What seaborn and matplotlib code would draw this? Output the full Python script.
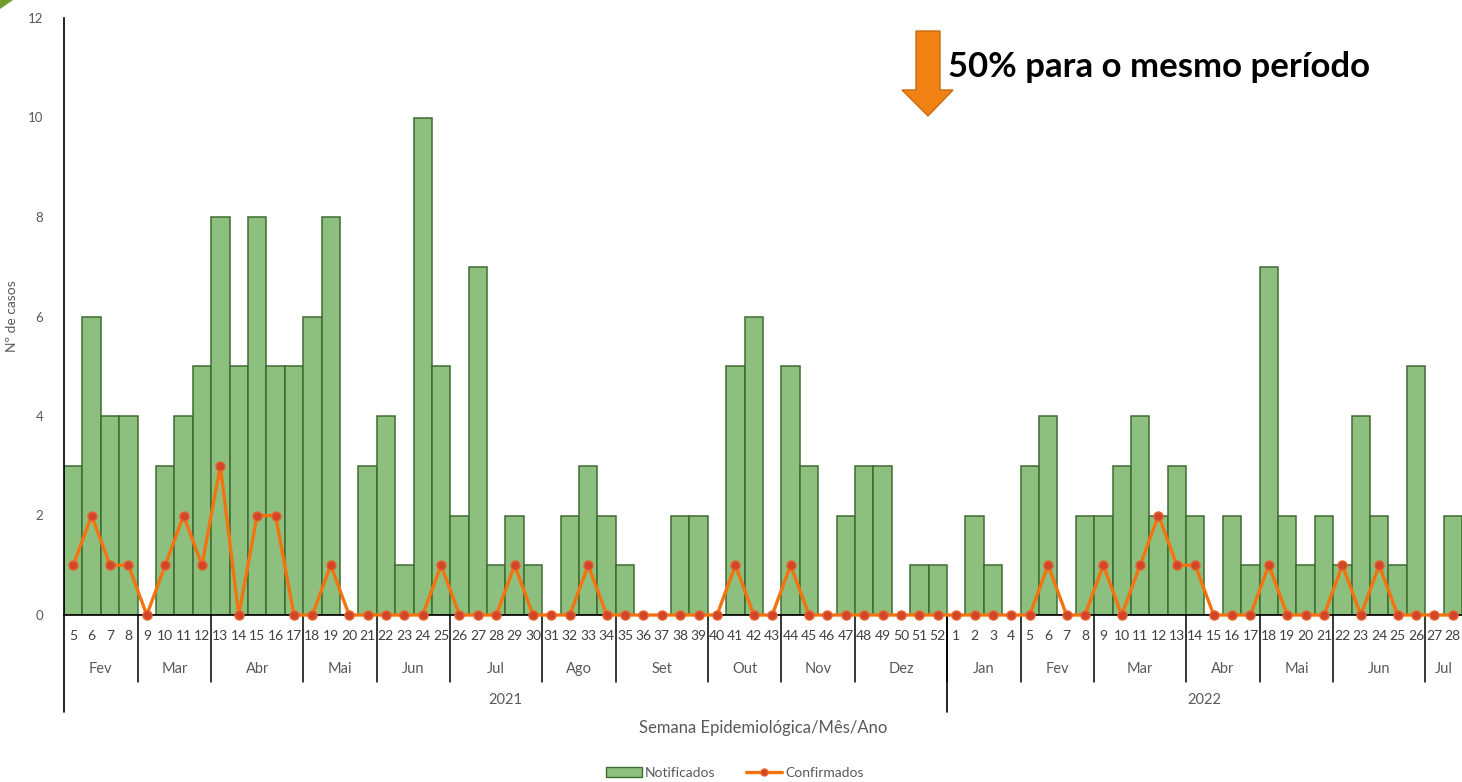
import numpy as np
import pandas as pd
import matplotlib
matplotlib.use("Agg")
import matplotlib.pyplot as plt
import seaborn as sns
from matplotlib.patches import Polygon, Patch
from matplotlib.lines import Line2D

# weekly data, 2021 week 5 .. 2022 week 28
weeks_2021 = list(range(5, 53))
weeks_2022 = list(range(1, 29))

notif_2021 = [3, 6, 4, 4, 0, 3, 4, 5, 8, 5,
              8, 5, 5, 6, 8, 0, 3, 4, 1, 10,
              5, 2, 7, 1, 2, 1, 0, 2, 3, 2,
              1, 0, 0, 2, 2, 0, 5, 6, 0, 5,
              3, 0, 2, 3, 3, 0, 1, 1]
conf_2021 = [1, 2, 1, 1, 0, 1, 2, 1, 3, 0,
             2, 2, 0, 0, 1, 0, 0, 0, 0, 0,
             1, 0, 0, 0, 1, 0, 0, 0, 1, 0,
             0, 0, 0, 0, 0, 0, 1, 0, 0, 1,
             0, 0, 0, 0, 0, 0, 0, 0]
notif_2022 = [0, 2, 1, 0, 3, 4, 0, 2, 2, 3,
              4, 2, 3, 2, 0, 2, 1, 7, 2, 1,
              2, 1, 4, 2, 1, 5, 0, 2]
conf_2022 = [0, 0, 0, 0, 0, 1, 0, 0, 1, 0,
             1, 2, 1, 1, 0, 0, 0, 1, 0, 0,
             0, 1, 0, 1, 0, 0, 0, 0]

months_2021 = ["Fev", "Mar", "Abr", "Mai", "Jun", "Jul", "Ago", "Set", "Out", "Nov", "Dez"]
month_len_2021 = [4, 4, 5, 4, 4, 5, 4, 5, 4, 4, 5]
months_2022 = ["Jan", "Fev", "Mar", "Abr", "Mai", "Jun", "Jul"]
month_len_2022 = [4, 4, 5, 4, 4, 5, 2]
years = ["2021", "2022"]

df = pd.DataFrame({
    "semana": weeks_2021 + weeks_2022,
    "notificados": notif_2021 + notif_2022,
    "confirmados": conf_2021 + conf_2022,
})
df["pos"] = np.arange(len(df))

sns.set_theme(style="white")
plt.rcParams["font.family"] = ["Lato", "DejaVu Sans"]
gray = "#595959"

fig = plt.figure(figsize=(14.62, 7.82), dpi=100)
ax = fig.add_axes([64 / 1462, 167 / 782, 1398 / 1462, 597 / 782])

sns.barplot(data=df, x="pos", y="notificados", native_scale=True, width=1,
            color="#8DC07E", edgecolor="#3E6B32", linewidth=1.1,
            saturation=1, ax=ax)
sns.lineplot(data=df, x="pos", y="confirmados", color="#F5730F", linewidth=2.4,
             marker="o", markersize=6.5, markerfacecolor="#D2452B",
             markeredgecolor="#E8622A", markeredgewidth=1.0,
             clip_on=False, ax=ax, zorder=3)

ax.set_xlim(-0.5, len(df) - 0.5)
ax.set_ylim(0, 12)
ax.set_yticks(range(0, 13, 2))
ax.tick_params(axis="y", labelsize=9.5, labelcolor=gray, length=0, pad=15)
ax.set_xticks([])
ax.set_xlabel("")
ax.set_ylabel("Nº de casos", fontsize=10, color=gray)
ax.yaxis.set_label_coords(-46 / 1398, 0.5)
for s in ["top", "right"]:
    ax.spines[s].set_visible(False)
for s in ["left", "bottom"]:
    ax.spines[s].set_color("black")
    ax.spines[s].set_linewidth(1.2)

tr = ax.get_xaxis_transform()
px = 1 / 597.0

# week numbers
for p, w in zip(df["pos"], df["semana"]):
    ax.text(p, -21 * px, str(w), transform=tr, ha="center", va="center",
            fontsize=10, color="#404040")

# month labels and dividers
start = 0
for names, lens in [(months_2021, month_len_2021), (months_2022, month_len_2022)]:
    for name, n in zip(names, lens):
        ax.text(start + (n - 1) / 2, -54 * px, name, transform=tr, ha="center",
                va="center", fontsize=10.5, color=gray)
        if start > 0:
            ax.plot([start - 0.5] * 2, [0, -67 * px], transform=tr, color="black",
                    lw=1.1, clip_on=False)
        start += n

# year labels and dividers
n21 = len(weeks_2021)
ax.text((n21 - 1) / 2, -85 * px, years[0], transform=tr, ha="center", va="center",
        fontsize=10.5, color=gray)
ax.text(n21 + (len(weeks_2022) - 1) / 2, -85 * px, years[1], transform=tr,
        ha="center", va="center", fontsize=10.5, color=gray)
for xv in [-0.5, n21 - 0.5]:
    ax.plot([xv, xv], [0, -97 * px], transform=tr, color="black", lw=1.2, clip_on=False)

fig.text(763 / 1462, 1 - 728 / 782, "Semana Epidemiológica/Mês/Ano", ha="center",
         va="center", fontsize=12, color=gray)

# legend
handles = [Patch(facecolor="#8DC07E", edgecolor="#3E6B32", label="Notificados"),
           Line2D([0], [0], color="#F5730F", lw=2.4, marker="o", markersize=5,
                  markerfacecolor="#D2452B", markeredgecolor="#E8622A",
                  label="Confirmados")]
fig.legend(handles=handles, loc="center", bbox_to_anchor=(735 / 1462, 1 - 773 / 782),
           ncol=2, frameon=False, fontsize=10, labelcolor=gray, handlelength=2.6,
           handleheight=0.7, columnspacing=2.2, handletextpad=0.2)

# annotation arrow + text
def fpt(x, y):
    return (x / 1462, 1 - y / 782)

arrow = [fpt(916, 31), fpt(940, 31), fpt(940, 90), fpt(953, 90),
         fpt(928, 116), fpt(902, 90), fpt(916, 90)]
fig.patches.append(Polygon(arrow, closed=True, transform=fig.transFigure,
                           facecolor="#F08213", edgecolor="#C86A10", lw=1))
fig.text(948 / 1462, 1 - 67 / 782, "50% para o mesmo período", ha="left",
         va="center", fontsize=25, fontweight="bold", color="black")

# corner decoration
fig.patches.append(Polygon([fpt(0, 0), fpt(13, 0), fpt(0, 9)], closed=True,
                           transform=fig.transFigure, facecolor="#6E9A2E",
                           edgecolor="none"))

fig.savefig("out.png", dpi=100)
